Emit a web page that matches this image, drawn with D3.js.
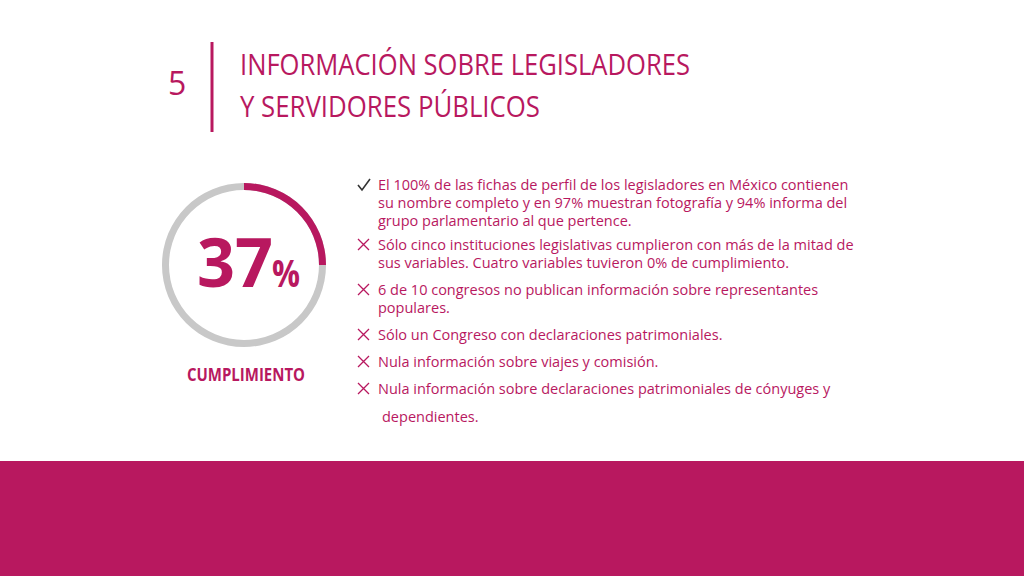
<!DOCTYPE html><html><head><meta charset="utf-8"><script src="https://cdn.jsdelivr.net/npm/d3@7"></script>
<style>body{margin:0}svg{display:block}</style></head><body><svg width="1024" height="576"></svg><script>
const percentLabel = "37";
const arcFraction = [0.25];
const bullets = [
 {mark:"check", lines:["El 100% de las fichas de perfil de los legisladores en México contienen","su nombre completo y en 97% muestran fotografía y 94% informa del","grupo parlamentario al que pertence."]},
 {mark:"x", lines:["Sólo cinco instituciones legislativas cumplieron con más de la mitad de","sus variables. Cuatro variables tuvieron 0% de cumplimiento."]},
 {mark:"x", lines:["6 de 10 congresos no publican información sobre representantes","populares."]},
 {mark:"x", lines:["Sólo un Congreso con declaraciones patrimoniales."]},
 {mark:"x", lines:["Nula información sobre viajes y comisión."]},
 {mark:"x", lines:["Nula información sobre declaraciones patrimoniales de cónyuges y"," dependientes."]}
];
const pink="#b8185f", grey="#c8c8c8";
const svg=d3.select("svg");
svg.append("rect").attr("width",1024).attr("height",576).attr("fill","#fff");
svg.append("rect").attr("y",461).attr("width",1024).attr("height",115).attr("fill",pink);
svg.append("text").attr("x",168).attr("y",95).attr("font-family","Open Sans").attr("font-size",32).attr("fill",pink).text("5");
svg.append("line").attr("x1",212).attr("x2",212).attr("y1",42).attr("y2",132).attr("stroke",pink).attr("stroke-width",3);
[["INFORMACIÓN SOBRE LEGISLADORES",75],["Y SERVIDORES PÚBLICOS",117]].forEach(([t,y])=>
 svg.append("text").attr("x",240).attr("y",y).attr("font-family","Open Sans").attr("font-size",30).attr("textLength",t.length>25?450:300).attr("lengthAdjust","spacingAndGlyphs").attr("fill",pink).text(t));
const g=svg.append("g").attr("transform","translate(244,265)");
const a=d3.arc().innerRadius(75).outerRadius(82).startAngle(0);
g.append("path").attr("d",a.endAngle(2*Math.PI)()).attr("fill",grey);
g.append("path").attr("d",a.endAngle(2*Math.PI*arcFraction[0])()).attr("fill",pink);
g.append("text").attr("x",-47).attr("y",22).attr("font-family","Open Sans").attr("font-weight","bold").attr("font-size",68).attr("textLength",76).attr("lengthAdjust","spacingAndGlyphs").attr("fill",pink).text(percentLabel);
g.append("text").attr("x",28).attr("y",22).attr("font-family","Open Sans").attr("font-weight","bold").attr("font-size",38).attr("textLength",28).attr("lengthAdjust","spacingAndGlyphs").attr("fill",pink).text("%");
svg.append("text").attr("x",187).attr("y",381).attr("font-family","Open Sans").attr("font-weight","bold").attr("font-size",18).attr("textLength",118).attr("lengthAdjust","spacingAndGlyphs").attr("fill",pink).text("CUMPLIMIENTO");
let y=190;
bullets.forEach((b,bi)=>{
 if(b.mark==="check") svg.append("path").attr("d",`M358 ${y-5} l4 5 l8 -11`).attr("fill","none").attr("stroke","#333").attr("stroke-width",1.6);
 else svg.append("path").attr("d",`M358 ${y-11} l11 11 M369 ${y-11} l-11 11`).attr("stroke",pink).attr("stroke-width",1.3);
 b.lines.forEach((l,i)=>{svg.append("text").attr("x",378+(l.startsWith(" ")?4:0)).attr("y",y).attr("font-family","Open Sans").attr("font-size",14.5).attr("fill",pink).text(l.trim()); y+= (i<b.lines.length-1)? (l.startsWith("Nula")?28:18):0;});
 y+= bi===0?24:27;
});
</script></body></html>
